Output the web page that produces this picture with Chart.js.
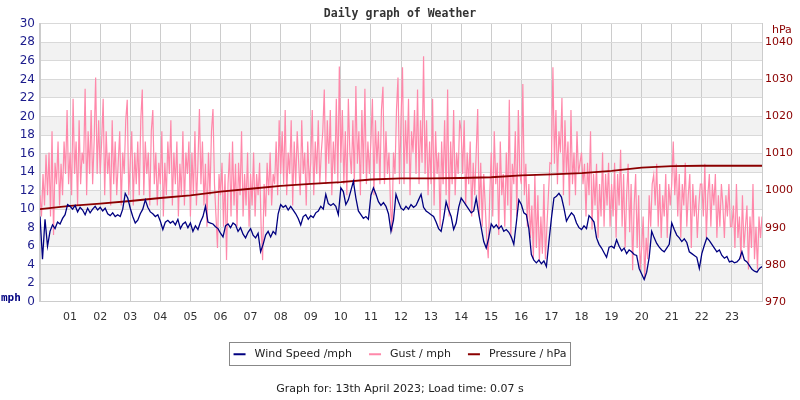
<!DOCTYPE html>
<html>
<head>
<meta charset="utf-8">
<script src="https://cdn.jsdelivr.net/npm/chart.js@4.4.1/dist/chart.umd.min.js"></script>
<style>
  html, body { margin: 0; padding: 0; background: #ffffff; }
  #wrap { width: 800px; height: 400px; }
</style>
</head>
<body>
<div id="wrap"><canvas id="c" width="800" height="400"></canvas></div>
<script>
// ---- data ----
const windMinutes = 5;              // spacing of wind samples
const gustMinutes = 3;              // spacing of gust samples
const pressureStepHours = 1;        // spacing of pressure samples
const hourLabels = ['', '01','02','03','04','05','06','07','08','09','10','11','12',
  '13','14','15','16','17','18','19','20','21','22','23',''];
const mphTicks = [0,2,4,6,8,10,12,14,16,18,20,22,24,26,28,30];
const hpaTicks = [970,980,990,1000,1010,1020,1030,1040];

const windSpeed = [
  9.2, 4.6, 8.9, 6.0, 7.6, 8.3, 7.9, 8.6, 8.4, 9.0, 9.4, 10.5,
  10.3, 10.0, 10.4, 9.7, 10.2, 9.9, 9.4, 10.1, 9.6, 10.0, 10.3, 9.9,
  10.2, 9.8, 10.1, 9.5, 9.3, 9.6, 9.2, 9.4, 9.2, 10.0, 11.7, 11.2,
  10.1, 9.2, 8.5, 8.8, 9.5, 10.0, 11.0, 10.2, 9.7, 9.5, 9.2, 9.4,
  8.7, 7.8, 8.6, 8.8, 8.5, 8.7, 8.3, 8.9, 7.9, 8.4, 8.6, 8.0,
  8.5, 7.6, 8.2, 7.8, 8.6, 9.2, 10.3, 8.6, 8.5, 8.4, 8.1, 7.9,
  7.4, 7.0, 8.2, 8.4, 8.0, 8.5, 8.3, 7.6, 8.0, 7.3, 6.9, 7.5,
  7.9, 7.2, 6.9, 7.4, 5.4, 6.2, 7.2, 7.6, 7.0, 7.6, 7.3, 9.5,
  10.5, 10.2, 10.4, 9.9, 10.3, 9.9, 9.5, 9.0, 8.3, 9.2, 9.4, 8.9,
  9.3, 9.1, 9.6, 9.8, 10.3, 10.0, 11.6, 10.6, 10.4, 10.6, 10.3, 9.4,
  12.3, 11.9, 10.5, 11.0, 12.0, 13.0, 11.2, 9.8, 9.4, 9.0, 9.2, 8.9,
  11.5, 12.3, 11.6, 10.8, 10.4, 10.7, 10.3, 9.5, 7.6, 8.8, 11.6, 10.8,
  10.1, 9.9, 10.3, 10.0, 10.5, 10.2, 10.4, 11.0, 11.6, 10.2, 9.8, 9.6,
  9.4, 9.2, 8.6, 7.9, 7.6, 9.0, 10.8, 9.9, 9.2, 7.8, 8.5, 10.2,
  11.2, 10.8, 10.4, 10.0, 9.6, 9.8, 11.2, 9.5, 8.0, 6.5, 5.8, 6.9,
  8.4, 8.0, 8.3, 7.9, 8.2, 7.6, 7.8, 7.5, 7.0, 6.2, 8.5, 11.0,
  10.5, 9.6, 9.4, 7.9, 5.1, 4.5, 4.2, 4.5, 4.1, 4.4, 3.8, 6.5,
  9.0, 11.2, 11.4, 11.7, 11.3, 10.1, 8.7, 9.2, 9.6, 9.3, 8.5, 8.0,
  7.8, 8.2, 7.9, 9.3, 9.0, 8.6, 6.9, 6.2, 5.8, 5.3, 4.8, 5.9,
  6.0, 5.8, 6.7, 6.0, 5.5, 5.8, 5.2, 5.6, 5.4, 5.1, 5.0, 3.6,
  3.0, 2.4, 3.2, 4.8, 7.6, 6.9, 6.3, 5.9, 5.6, 5.4, 5.8, 6.2,
  8.5, 7.8, 7.2, 6.9, 6.5, 6.8, 6.4, 5.4, 5.2, 5.0, 4.8, 3.6,
  5.2, 6.1, 6.9, 6.6, 6.2, 5.8, 5.4, 5.6, 5.0, 4.7, 4.9, 4.3,
  4.4, 4.2, 4.3, 4.6, 5.4, 4.5, 4.3, 3.9, 3.5, 3.3, 3.2, 3.6,
  3.8
];

const gustSpeed = [
  11.5, 9.2, 13.8, 10.4, 15.9, 11.5, 16.1, 9.2, 18.4, 7.2, 15.0, 12.7, 17.3, 10.4, 14.9, 11.5, 17.3, 13.8, 20.7, 12.7,
  16.1, 11.5, 21.9, 13.8, 17.3, 10.4, 19.6, 12.7, 16.1, 14.9, 23.0, 11.5, 18.4, 13.8, 20.7, 12.7, 17.3, 24.2, 13.8, 19.6,
  13.8, 17.3, 21.9, 11.5, 18.4, 13.8, 16.1, 10.4, 19.6, 12.7, 17.3, 11.5, 15.0, 18.4, 10.4, 16.1, 13.8, 19.6, 21.8, 11.5,
  15.0, 18.4, 10.4, 16.1, 12.7, 17.3, 11.5, 19.6, 22.9, 11.5, 17.3, 13.8, 16.1, 10.4, 18.4, 20.7, 12.7, 16.1, 10.4, 15.0,
  12.7, 18.4, 9.2, 15.0, 11.5, 17.3, 13.8, 19.6, 10.4, 16.1, 12.7, 17.3, 9.2, 14.9, 11.5, 18.4, 10.4, 16.1, 13.8, 17.3,
  9.2, 16.1, 11.5, 18.4, 10.4, 15.0, 20.8, 12.7, 17.3, 10.4, 14.9, 8.1, 16.1, 11.5, 18.4, 20.8, 12.7, 9.2, 5.8, 13.8,
  11.5, 15.0, 8.1, 13.8, 4.5, 12.7, 16.1, 9.2, 17.3, 10.4, 14.9, 8.1, 15.0, 11.5, 18.4, 9.2, 13.8, 10.4, 16.1, 8.1,
  13.8, 10.4, 16.1, 9.2, 13.8, 11.5, 15.0, 8.1, 4.5, 12.7, 9.2, 15.0, 11.5, 16.1, 10.4, 13.8, 12.7, 17.3, 11.5, 19.6,
  13.8, 18.4, 12.7, 20.7, 11.5, 16.1, 13.8, 19.6, 10.4, 17.3, 12.7, 18.4, 14.9, 11.5, 19.6, 13.8, 16.1, 10.4, 17.3, 12.7,
  15.0, 20.7, 11.5, 17.3, 13.8, 19.6, 12.7, 16.1, 18.4, 22.9, 12.7, 19.6, 14.9, 20.7, 11.5, 17.3, 13.8, 21.9, 12.7, 25.4,
  15.0, 20.7, 12.7, 18.4, 11.5, 21.9, 16.1, 13.8, 19.6, 12.7, 23.3, 14.9, 18.4, 11.5, 20.7, 13.8, 23.0, 12.7, 17.3, 13.8,
  17.3, 21.9, 11.5, 19.6, 14.9, 18.4, 12.7, 20.7, 23.2, 12.7, 18.4, 13.8, 16.1, 10.4, 7.6, 16.1, 13.8, 20.7, 24.2, 12.7,
  19.6, 25.3, 12.7, 19.6, 14.9, 21.9, 11.5, 18.4, 16.1, 20.7, 13.8, 22.9, 12.7, 19.6, 15.0, 26.5, 13.8, 19.6, 11.5, 17.3,
  12.7, 21.9, 10.4, 18.4, 13.8, 16.1, 8.1, 17.3, 12.7, 19.6, 11.5, 22.9, 9.2, 17.3, 12.7, 20.7, 11.5, 16.1, 13.8, 19.6,
  18.4, 13.8, 19.6, 10.4, 16.1, 12.7, 17.3, 9.2, 15.0, 11.5, 16.1, 20.8, 9.2, 15.0, 8.1, 13.8, 10.4, 6.9, 4.7, 11.5,
  16.1, 9.2, 18.4, 12.7, 15.0, 7.2, 17.3, 11.5, 13.8, 8.1, 16.1, 10.4, 21.8, 6.9, 14.9, 12.7, 18.4, 9.2, 20.7, 13.8,
  12.7, 23.5, 11.5, 14.9, 8.1, 12.7, 6.9, 10.4, 4.6, 13.8, 5.8, 11.5, 4.4, 9.2, 5.2, 12.7, 4.6, 8.1, 11.5, 15.0,
  14.9, 25.3, 14.9, 20.7, 12.7, 18.4, 16.1, 22.0, 11.5, 19.6, 13.8, 17.3, 10.4, 20.7, 12.7, 16.1, 11.5, 18.4, 13.8, 15.0,
  16.1, 12.7, 14.9, 9.2, 15.0, 11.5, 18.4, 7.8, 13.8, 10.4, 14.9, 6.9, 12.7, 9.2, 16.1, 8.1, 13.8, 10.4, 15.0, 8.1,
  12.7, 9.2, 15.0, 6.9, 13.8, 10.4, 16.4, 8.1, 13.8, 5.8, 11.5, 14.9, 7.5, 12.7, 3.4, 10.4, 13.8, 5.8, 11.5, 3.4,
  5.8, 9.2, 2.4, 6.9, 4.6, 11.5, 8.1, 12.7, 13.7, 10.4, 14.9, 8.1, 12.7, 6.9, 11.5, 9.2, 13.8, 6.9, 12.7, 10.4,
  12.7, 17.3, 11.5, 14.9, 9.2, 13.8, 6.9, 12.7, 10.4, 15.0, 8.1, 11.5, 13.8, 5.8, 12.7, 9.2, 11.5, 6.9, 10.4, 12.7,
  12.7, 9.2, 14.9, 6.9, 11.5, 13.8, 8.1, 12.7, 10.4, 13.8, 6.9, 11.5, 8.1, 12.7, 10.4, 6.9, 11.5, 9.2, 12.7, 8.1,
  8.1, 10.4, 5.8, 12.7, 6.9, 9.2, 4.6, 11.5, 5.8, 8.1, 10.4, 3.5, 9.2, 5.8, 12.7, 4.6, 8.1, 3.5, 9.2, 6.9,
  9.2
];

const pressure = [
  995.0, 995.9, 996.5, 997.2, 998.0, 998.7, 999.7, 1000.5, 1001.3, 1001.8,
  1002.3, 1003.0, 1003.3, 1003.3, 1003.4, 1003.6, 1004.1, 1004.4, 1004.7,
  1005.3, 1006.2, 1006.6, 1006.7, 1006.7, 1006.7
];

// ---- build series for the library ----
const toXY = (arr, stepHours) => arr.map((v, i) => ({ x: i * stepHours, y: v }));

const bandPlugin = {
  id: 'bands',
  beforeDraw(chart) {
    const { ctx, chartArea: a, scales } = chart;
    const y = scales.y;
    ctx.save();
    ctx.fillStyle = '#f2f2f2';
    for (let lo = 2; lo < 30; lo += 4) {
      const top = y.getPixelForValue(lo + 2);
      const bot = y.getPixelForValue(lo);
      ctx.fillRect(a.left, top, a.right - a.left, bot - top);
    }
    ctx.restore();
  }
};

const extrasPlugin = {
  id: 'extras',
  afterDraw(chart) {
    const { ctx, chartArea: a } = chart;
    ctx.save();
    ctx.font = 'bold 11px "DejaVu Sans Mono"';
    ctx.fillStyle = '#000080';
    ctx.textAlign = 'left';
    ctx.textBaseline = 'middle';
    ctx.fillText('mph', 1, a.bottom - 4);
    ctx.font = '11px "DejaVu Sans"';
    ctx.fillStyle = '#8b0000';
    ctx.fillText('hPa', 772, 30);
    const lg = chart.legend;
    if (lg && lg.legendHitBoxes && lg.legendHitBoxes.length) {
      const hb = lg.legendHitBoxes;
      const first = hb[0], last = hb[hb.length - 1];
      const cy = first.top + first.height / 2;
      const left = Math.round(first.left - 5) + 0.5;
      const right = Math.round(last.left + last.width + 4) + 0.5;
      ctx.strokeStyle = '#888888';
      ctx.lineWidth = 1;
      ctx.strokeRect(left, Math.round(cy - 12) + 0.5, right - left, 23);
    }
    ctx.restore();
  }
};

const chart = new Chart(document.getElementById('c'), {
  type: 'line',
  data: {
    datasets: [
      {
        label: 'Wind Speed /mph',
        data: toXY(windSpeed, windMinutes / 60),
        borderColor: '#000080',
        backgroundColor: '#000080',
        borderWidth: 1.3,
        yAxisID: 'y',
        order: 1
      },
      {
        label: 'Gust / mph',
        data: toXY(gustSpeed, gustMinutes / 60),
        borderColor: '#ff88aa',
        backgroundColor: '#ff88aa',
        borderWidth: 1.2,
        yAxisID: 'y',
        order: 3
      },
      {
        label: 'Pressure / hPa',
        data: toXY(pressure, pressureStepHours),
        borderColor: '#8b0000',
        backgroundColor: '#8b0000',
        borderWidth: 1.8,
        yAxisID: 'y2',
        order: 2
      }
    ]
  },
  options: {
    responsive: false,
    animation: false,
    events: [],
    elements: { point: { radius: 0 }, line: { tension: 0 } },
    layout: { padding: { left: 0, right: 0, top: 0, bottom: 0 } },
    scales: {
      x: {
        type: 'linear',
        min: 0,
        max: 24,
        afterFit(s) { s.height = 30; },
        afterBuildTicks(s) { s.ticks = hourLabels.map((_, i) => ({ value: i })); },
        ticks: {
          autoSkip: false,
          maxRotation: 0,
          padding: 9,
          color: '#333333',
          font: { family: 'DejaVu Sans', size: 11 },
          callback: (v) => hourLabels[v]
        },
        grid: { color: '#cccccc', drawTicks: false, lineWidth: 1 },
        border: { color: '#cccccc', width: 1 }
      },
      y: {
        position: 'left',
        min: 0,
        max: 30,
        afterFit(s) { s.width = 40; },
        afterBuildTicks(s) { s.ticks = mphTicks.map(v => ({ value: v })); },
        ticks: {
          padding: 5,
          color: '#1c1c8c',
          font: { family: 'DejaVu Sans', size: 12 },
          callback: (v) => String(v)
        },
        grid: { color: '#d9d9d9', drawTicks: false },
        border: { color: '#cccccc', width: 2 }
      },
      y2: {
        position: 'right',
        min: 970,
        max: 1045,
        afterFit(s) { s.width = 38; },
        afterBuildTicks(s) { s.ticks = hpaTicks.map(v => ({ value: v })); },
        ticks: {
          padding: 3,
          color: '#8b0000',
          font: { family: 'DejaVu Sans', size: 11 },
          callback: (v) => String(v)
        },
        grid: { display: false, drawTicks: false },
        border: { color: '#cccccc', width: 1 }
      }
    },
    plugins: {
      tooltip: { enabled: false },
      title: {
        display: true,
        text: 'Daily graph of Weather',
        color: '#333333',
        font: { family: 'DejaVu Sans Mono', size: 11.5, weight: 'bold', lineHeight: 1.2 },
        padding: { top: 7, bottom: 3 }
      },
      subtitle: {
        display: true,
        position: 'bottom',
        text: 'Graph for: 13th April 2023; Load time: 0.07 s',
        color: '#222222',
        font: { family: 'DejaVu Sans', size: 11, lineHeight: 1.2 },
        padding: { top: 13, bottom: 4 }
      },
      legend: {
        display: true,
        position: 'bottom',
        labels: {
          boxWidth: 12,
          boxHeight: 2,
          padding: 17,
          color: '#222222',
          font: { family: 'DejaVu Sans', size: 11 },
          sort: (a, b) => a.datasetIndex - b.datasetIndex,
          generateLabels(ch) {
            return Chart.defaults.plugins.legend.labels.generateLabels(ch)
              .map(l => Object.assign(l, { lineWidth: 0, text: ' ' + l.text }));
          }
        }
      }
    }
  },
  plugins: [bandPlugin, extrasPlugin]
});
</script>
</body>
</html>
